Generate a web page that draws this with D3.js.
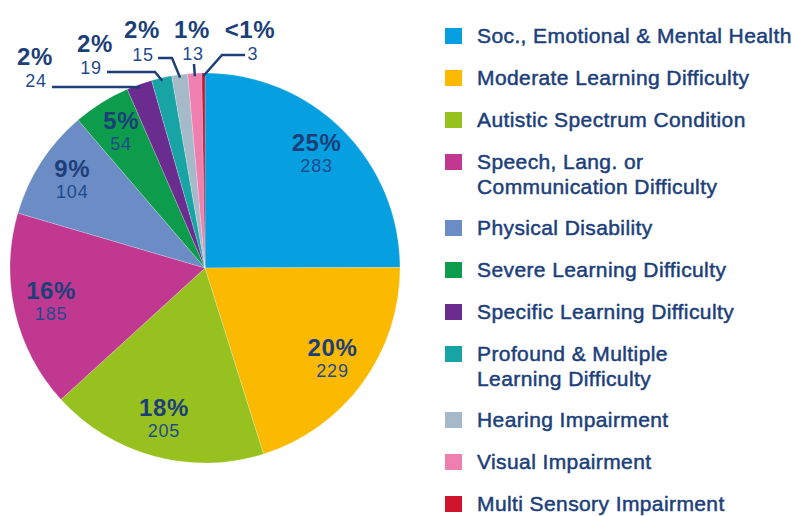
<!DOCTYPE html>
<html>
<head>
<meta charset="utf-8">
<script src="https://cdn.jsdelivr.net/npm/d3@7"></script>
<style>
    body { margin: 0; background: #fff; }
    svg { display: block; font-family: "Liberation Sans", Arial, sans-serif; }
</style>
</head>
<body>
<div id="chart"></div>
<script>
// categories, legend text ("|" = line break)
var categories = [
    "Soc., Emotional & Mental Health",
    "Moderate Learning Difficulty",
    "Autistic Spectrum Condition",
    "Speech, Lang. or|Communication Difficulty",
    "Physical Disability",
    "Severe Learning Difficulty",
    "Specific Learning Difficulty",
    "Profound & Multiple|Learning Difficulty",
    "Hearing Impairment",
    "Visual Impairment",
    "Multi Sensory Impairment"
];
var counts = [283, 229, 205, 185, 104, 54, 24, 19, 15, 13, 3];
var pctLabels = ["25%", "20%", "18%", "16%", "9%", "5%", "2%", "2%", "2%", "1%", "<1%"];
var colors = ["#06a0e0", "#fbb900", "#97c11f", "#c0388f", "#6b8cc4", "#0c9c4b",
    "#6a2c8e", "#18a4a4", "#a6b9c9", "#ee7fae", "#d0142c"];

var dims = {
    width: 795,
    height: 516,
    cx: 205,
    cy: 268,
    radius: 195,
    labelRadius: 158
};
var navy = "#1c3f7a";
var numColor = "#1f4b8e";

// small slices get their labels outside with leader lines
var outerLabels = {
    6: { px: 35, py: 65, nx: 36, ny: 87, line: [[52, 87], [131, 87]] },
    7: { px: 95, py: 52, nx: 91, ny: 74, line: [[107, 72], [155, 72]] },
    8: { px: 142, py: 38, nx: 143, ny: 61, line: [[158, 58], [172, 58]] },
    9: { px: 192, py: 38, nx: 193, ny: 60, line: [[194, 64]] },
    10: { px: 250, py: 38, nx: 253, ny: 60, line: [[245, 55], [222, 55]] }
};

var svg = d3.select("#chart").append("svg")
    .attr("width", dims.width)
    .attr("height", dims.height);

var pie = d3.pie().sort(null).value(d => d)(counts);
var arc = d3.arc().innerRadius(0).outerRadius(dims.radius);
var labelArc = d3.arc().innerRadius(dims.labelRadius).outerRadius(dims.labelRadius);
var edgeArc = d3.arc().innerRadius(dims.radius - 3).outerRadius(dims.radius - 3);

var g = svg.append("g")
    .attr("transform", `translate(${dims.cx}, ${dims.cy})`);

g.selectAll("path.slice")
    .data(pie)
    .enter()
    .append("path")
    .attr("class", "slice")
    .attr("d", arc)
    .attr("fill", (d, i) => colors[i])
    .attr("stroke", "rgba(255,255,255,0.35)")
    .attr("stroke-width", 0.6);

function pctText(sel, x, y, i) {
    sel.append("text")
        .attr("x", x).attr("y", y)
        .attr("text-anchor", "middle")
        .attr("font-size", 24).attr("font-weight", "bold")
        .attr("letter-spacing", 0.6)
        .attr("fill", navy)
        .text(pctLabels[i]);
}
function numText(sel, x, y, i) {
    sel.append("text")
        .attr("x", x).attr("y", y)
        .attr("text-anchor", "middle")
        .attr("font-size", 18)
        .attr("letter-spacing", 0.8)
        .attr("fill", numColor)
        .text(counts[i]);
}

//inner labels
pie.forEach((d, i) => {
    if (outerLabels[i]) return;
    var c = labelArc.centroid(d);
    pctText(g, c[0], c[1] - 5, i);
    numText(g, c[0], c[1] + 16, i);
});

//outer labels + leader lines
var line = d3.line();
pie.forEach((d, i) => {
    var o = outerLabels[i];
    if (!o) return;
    var e = edgeArc.centroid(d);
    var pts = o.line.concat([[e[0] + dims.cx, e[1] + dims.cy]]);
    svg.append("path")
        .attr("d", line(pts))
        .attr("fill", "none")
        .attr("stroke", navy)
        .attr("stroke-width", 2.5);
    pctText(svg, o.px, o.py, i);
    numText(svg, o.nx, o.ny, i);
});

//legend
var legend = svg.append("g").attr("class", "legend");
var extra = 0;
categories.forEach((name, i) => {
    var lines = name.split("|");
    var y = 43 + 42 * i + 24 * extra;
    legend.append("rect")
        .attr("x", 445).attr("y", y - 15)
        .attr("width", 17).attr("height", 16)
        .attr("fill", colors[i]);
    var t = legend.append("text")
        .attr("x", 477).attr("y", y)
        .attr("font-size", 21)
        .attr("letter-spacing", 0.4)
        .attr("fill", navy)
        .attr("stroke", navy)
        .attr("stroke-width", 0.5);
    lines.forEach((l, j) => {
        t.append("tspan")
            .attr("x", 477)
            .attr("dy", j === 0 ? 0 : 25)
            .text(l);
    });
    extra += lines.length - 1;
});
</script>
</body>
</html>
